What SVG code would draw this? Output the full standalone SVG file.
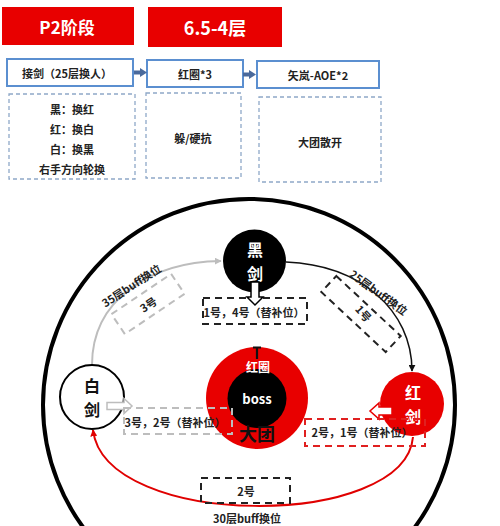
<svg xmlns="http://www.w3.org/2000/svg" width="500" height="526" viewBox="0 0 500 526">
<defs>
<style>
text{font-family:"Noto Sans CJK SC","Liberation Sans",sans-serif;font-weight:bold;text-anchor:middle;dominant-baseline:central}
.hdr{fill:#e80000}
.hdrt{fill:#fff;font-size:17px}
.bbox{fill:#fff;stroke:#5b8fd0;stroke-width:2}
.dbox{fill:none;stroke:#8ea8c8;stroke-width:1.3;stroke-dasharray:4 3}
.t11{font-size:11px;fill:#222}
.dk{fill:none;stroke:#222;stroke-width:2;stroke-dasharray:7 5}
.dg{fill:none;stroke:#bdbdbd;stroke-width:2;stroke-dasharray:7 5}
.dr{fill:none;stroke:#e02020;stroke-width:2;stroke-dasharray:7 5}
.sw{font-size:16px}
</style>
<marker id="ag" viewBox="0 0 10 10" refX="9" refY="5" markerWidth="7" markerHeight="7" markerUnits="userSpaceOnUse" orient="auto"><path d="M0,0L10,5L0,10z" fill="#bdbdbd"/></marker>
<marker id="ak" viewBox="0 0 10 10" refX="9" refY="5" markerWidth="7" markerHeight="7" markerUnits="userSpaceOnUse" orient="auto"><path d="M0,0L10,5L0,10z" fill="#111"/></marker>
<marker id="ar" viewBox="0 0 10 10" refX="9" refY="5" markerWidth="7" markerHeight="7" markerUnits="userSpaceOnUse" orient="auto"><path d="M0,0L10,5L0,10z" fill="#e00000"/></marker>
</defs>
<rect width="500" height="526" fill="#fff"/>

<g id="header-p2"><rect class="hdr" x="2" y="7" width="132" height="38"/><text class="hdrt" x="67" y="26">P2阶段</text></g>
<g id="header-layer"><rect class="hdr" x="148" y="7" width="134" height="40"/><text class="hdrt" x="215" y="27" style="font-size:18px">6.5-4层</text></g>

<g id="step1"><rect class="bbox" x="7" y="59" width="126" height="27"/><text class="t11" x="67" y="73">接剑（25层换人）</text></g>
<g id="step2"><rect class="bbox" x="147" y="60" width="96" height="27"/><text class="t11" x="195" y="74">红圈*3</text></g>
<g id="step3"><rect class="bbox" x="257" y="61" width="122" height="27"/><text class="t11" x="318" y="75">矢岚-AOE*2</text></g>

<g id="note1"><rect class="dbox" x="9" y="94" width="126" height="85"/>
<text class="t11" x="72" y="109">黑：换红</text><text class="t11" x="72" y="129">红：换白</text><text class="t11" x="72" y="149">白：换黑</text><text class="t11" x="72" y="169">右手方向轮换</text></g>
<g id="note2"><rect class="dbox" x="146" y="93" width="95" height="85"/><text class="t11" x="193" y="138">躲/硬抗</text></g>
<g id="note3"><rect class="dbox" x="259" y="97" width="122" height="85"/><text class="t11" x="320" y="142">大团散开</text></g>

<g id="arena"><circle cx="249" cy="405" r="206" fill="none" stroke="#000" stroke-width="4"/></g>

<g id="connectors">
<path d="M134 72.5H141" stroke="#4a6a9c" stroke-width="4"/><path d="M140 68L147 72.5L140 77z" fill="#4a6a9c"/>
<path d="M243 74.5H250" stroke="#4a6a9c" stroke-width="4"/><path d="M249 70L256 74.5L249 79z" fill="#4a6a9c"/>
<path d="M92 365C92 300 150 262 221 261" fill="none" stroke="#bdbdbd" stroke-width="2" marker-end="url(#ag)"/>
<path d="M286 262C360 265 412 310 412 371" fill="none" stroke="#111" stroke-width="1.5" marker-end="url(#ak)"/>
<path d="M413 437C405 530 105 530 93 430" fill="none" stroke="#e00000" stroke-width="2" marker-end="url(#ar)"/>
</g>

<g id="label-35"><text class="t11" transform="translate(131,285) rotate(-33)">35层buff换位</text></g>
<g id="slot-3"><rect class="dg" x="-36" y="-12" width="72" height="24" transform="translate(148,304) rotate(-34)"/><text class="t11" transform="translate(148,304) rotate(-34)">3号</text></g>
<g id="label-25"><text class="t11" transform="translate(379,292) rotate(36)">25层buff换位</text></g>
<g id="slot-1"><rect class="dk" x="-44" y="-11" width="88" height="22" transform="translate(361,314) rotate(43)"/><text class="t11" transform="translate(364,313) rotate(48)">1号</text></g>

<g id="boss">
<circle cx="257" cy="398" r="51" fill="#e80000"/>
<circle cx="257" cy="398.5" r="29.5" fill="#000"/>
<path d="M257 347V359M253 347.5H261" stroke="#111" stroke-width="2.2" fill="none"/>
<text x="258" y="366" style="font-size:12px;fill:#fff">红圈</text>
<text x="257" y="398" style="font-size:13px;fill:#fff">boss</text>
<text x="257" y="433" style="font-size:18px;fill:#111">大团</text>
</g>

<g id="black-sword">
<circle cx="254.5" cy="261" r="31.5" fill="#000"/>
<text class="sw" x="255" y="249" fill="#fff">黑</text><text class="sw" x="255" y="273" fill="#fff">剑</text>
</g>
<g id="slot-14"><rect class="dk" x="203" y="298" width="104" height="26"/><text class="t11" x="254" y="312">1号，4号（替补位）</text>
<path d="M251 282H259V297H263L255 305L247 297H251z" fill="#fff" stroke="#000" stroke-width="1.5"/></g>

<g id="white-sword">
<circle cx="92" cy="397" r="32" fill="#fff" stroke="#000" stroke-width="2"/>
<text class="sw" x="92" y="385" fill="#111">白</text><text class="sw" x="92" y="409" fill="#111">剑</text>
<path d="M107 402.5H124V398.5L132 406L124 413.5V409.5H107z" fill="#fff" stroke="#bdbdbd" stroke-width="1.5"/>
</g>
<g id="slot-32"><rect class="dg" x="124" y="408" width="108" height="26"/><text class="t11" x="175" y="422">3号，2号（替补位）</text></g>

<g id="red-sword">
<circle cx="412" cy="404" r="32" fill="#e80000"/>
<text class="sw" x="413" y="392" fill="#fff">红</text><text class="sw" x="413" y="416" fill="#fff">剑</text>
<path d="M392 407H379V403L370 411L379 419V415H392z" fill="#fff" stroke="#e80000" stroke-width="1.5"/>
</g>
<g id="slot-21"><rect class="dr" x="305" y="419" width="120" height="27"/><text class="t11" x="362" y="432">2号，1号（替补位）</text></g>

<g id="slot-2"><rect class="dk" x="201" y="478" width="89" height="25"/><text class="t11" x="246" y="491">2号</text></g>
<g id="label-30"><text class="t11" x="247" y="518">30层buff换位</text></g>
</svg>
